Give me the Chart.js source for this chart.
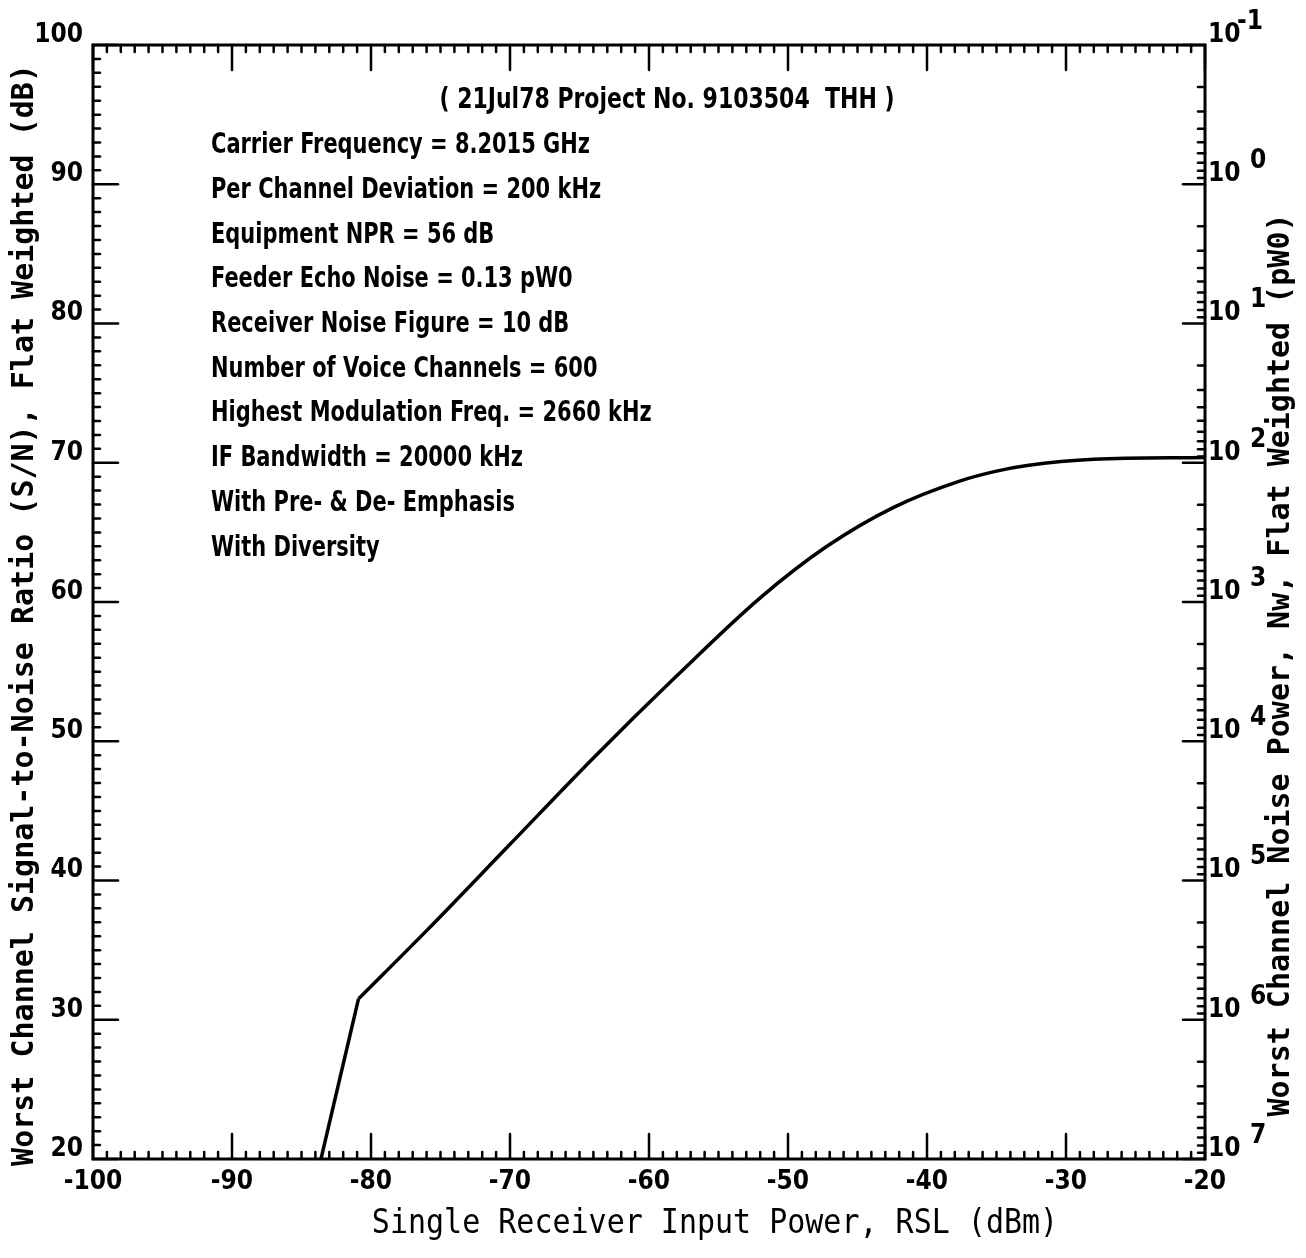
<!DOCTYPE html>
<html>
<head>
<meta charset="utf-8">
<script src="https://cdn.jsdelivr.net/npm/chart.js@4.4.1/dist/chart.umd.min.js"></script>
<style>
body { margin: 0; background: #fff; }
canvas { display: block; }
</style>
</head>
<body>
<canvas id="myChart" width="1306" height="1258"></canvas>
<script>
// Data

var RSL = [-83.6, -80.9, -76, -70, -64, -58, -52, -47.2, -42.4, -37.6, -35, -32.8, -28, -20];
var SN  = [20, 31.5, 36.4, 42.6, 48.8, 54.7, 60.3, 64.0, 66.8, 68.7, 69.4, 69.8, 70.25, 70.38];
var KNEE = 1; // index of the sharp corner, the curve is smooth after it

// right axis: noise power 10^n pW0 at these S/N values
var NW_SN  = [100, 90, 80, 70, 60, 50, 40, 30, 20];
var NW_EXP = ["-1", "0", "1", "2", "3", "4", "5", "6", "7"];

var HEADER = "( 21Jul78 Project No. 9103504  THH )";
var NOTES = [
	"Carrier Frequency = 8.2015 GHz",
	"Per Channel Deviation = 200 kHz",
	"Equipment NPR = 56 dB",
	"Feeder Echo Noise = 0.13 pW0",
	"Receiver Noise Figure = 10 dB",
	"Number of Voice Channels = 600",
	"Highest Modulation Freq. = 2660 kHz",
	"IF Bandwidth = 20000 kHz",
	"With Pre- & De- Emphasis",
	"With Diversity"
	];

var X_TITLE  = "Single Receiver Input Power, RSL (dBm)";
var Y_TITLE  = "Worst Channel Signal-to-Noise Ratio (S/N), Flat Weighted (dB)";
var Y2_TITLE = "Worst Channel Noise Power, Nw, Flat Weighted (pW0)";

var NARROW = "'Liberation Sans Narrow', 'DejaVu Sans Condensed', 'Liberation Sans', sans-serif";
var MONO = "'DejaVu Sans Mono', 'Liberation Mono', monospace";

var steep = [], smooth = [];
for (var i = 0; i < RSL.length; i++) {
	if (i <= KNEE) steep.push({x: RSL[i], y: SN[i]});
	if (i >= KNEE) smooth.push({x: RSL[i], y: SN[i]});
	}

function seg(ctx, x1, y1, x2, y2) {
	ctx.beginPath();
	ctx.moveTo(x1, y1);
	ctx.lineTo(x2, y2);
	ctx.stroke();
	}

// frame, inward ticks, exponents and all the free text
var plotter = {
	id: 'plotter',
	beforeDraw: function(chart) {
		var ctx = chart.ctx;
		ctx.save();
		ctx.fillStyle = '#fff';
		ctx.fillRect(0, 0, chart.width, chart.height);
		ctx.restore();
		},
	afterDraw: function(chart) {
		var ctx = chart.ctx;
		var a = chart.chartArea;
		var xs = chart.scales.x, ys = chart.scales.y, rs = chart.scales.nw;
		ctx.save();
		ctx.strokeStyle = '#000';
		ctx.fillStyle = '#000';
		ctx.lineCap = 'round';
		ctx.lineWidth = 3;
		ctx.strokeRect(a.left, a.top, a.right - a.left, a.bottom - a.top);

		ctx.lineWidth = 2.5;
		var v, p, len;
		for (v = -100; v <= -20; v++) {
			p = xs.getPixelForValue(v);
			len = (v % 10 == 0) ? 25 : 7;
			seg(ctx, p, a.bottom, p, a.bottom - len);
			seg(ctx, p, a.top, p, a.top + len);
			}
		for (v = 20; v <= 100; v++) {
			p = ys.getPixelForValue(v);
			len = (v % 10 == 0) ? 25 : 7;
			seg(ctx, a.left, p, a.left + len, p);
			}
		// log ticks on the right
		for (var k = 0; k < NW_SN.length; k++) {
			p = rs.getPixelForValue(NW_SN[k]);
			seg(ctx, a.right, p, a.right - 22, p);
			if (k == NW_SN.length - 1) break;
			for (var m = 2; m <= 9; m++) {
				p = rs.getPixelForValue(NW_SN[k] - 10 * Math.log10(m));
				seg(ctx, a.right, p, a.right - 7, p);
				}
			}

		// exponents
		ctx.font = "bold 26px " + NARROW;
		ctx.textAlign = 'left';
		ctx.textBaseline = 'middle';
		for (k = 0; k < NW_SN.length; k++) {
			p = rs.getPixelForValue(NW_SN[k]);
			ctx.fillText(NW_EXP[k], a.right + (k == 0 ? 32 : 45), p - 23);
			}

		// notes
		ctx.font = "bold 28px " + NARROW;
		var sx = 379 / ctx.measureText(NOTES[0]).width;
		var hx = 455 / ctx.measureText(HEADER).width;
		ctx.save();
		ctx.scale(hx, 1);
		ctx.textAlign = 'center';
		ctx.fillText(HEADER, 667 / hx, 101);
		ctx.restore();
		ctx.save();
		ctx.scale(sx, 1);
		ctx.textAlign = 'left';
		for (k = 0; k < NOTES.length; k++) {
			ctx.fillText(NOTES[k], 211 / sx, 146 + k * 44.7);
			}
		ctx.restore();

		// axis titles
		ctx.textAlign = 'center';
		ctx.font = "30px " + MONO;
		ctx.save();
		ctx.translate(715, 1224);
		ctx.scale(1, 1.15);
		ctx.fillText(X_TITLE, 0, 0);
		ctx.restore();
		ctx.font = "bold 30px " + MONO;
		ctx.save();
		ctx.translate(25, 615);
		ctx.rotate(-Math.PI / 2);
		ctx.fillText(Y_TITLE, 0, 0);
		ctx.restore();
		ctx.save();
		ctx.translate(1281, 665);
		ctx.rotate(-Math.PI / 2);
		ctx.fillText(Y2_TITLE, 0, 0);
		ctx.restore();
		ctx.restore();
		}
	};

var tickFont = {family: NARROW, size: 26, weight: 'bold'};

var ChartInst = new Chart(document.getElementById("myChart").getContext("2d"), {
	type: 'line',
	data: {
		datasets: [{
			data: steep,
			borderColor: '#000',
			borderWidth: 3.5,
			pointRadius: 0,
			tension: 0,
			fill: false
			},
			{
			data: smooth,
			borderColor: '#000',
			borderWidth: 3.5,
			pointRadius: 0,
			cubicInterpolationMode: 'monotone',
			fill: false
			}]
		},
	options: {
		responsive: false,
		animation: false,
		layout: { padding: { top: 45, left: 0, right: 0, bottom: 0 } },
		plugins: { legend: { display: false }, tooltip: { enabled: false } },
		scales: {
			x: {
				type: 'linear',
				min: -100,
				max: -20,
				grid: { display: false, drawTicks: false },
				border: { display: false },
				ticks: { stepSize: 10, color: '#000', font: tickFont, padding: 8, maxRotation: 0, autoSkip: false },
				afterFit: function(scale) { scale.height = 99; }
				},
			y: {
				type: 'linear',
				position: 'left',
				min: 20,
				max: 100,
				grid: { display: false, drawTicks: false },
				border: { display: false },
				ticks: { stepSize: 10, color: '#000', font: tickFont, padding: 10, labelOffset: -10 },
				afterFit: function(scale) { scale.width = 93; }
				},
			nw: {
				type: 'linear',
				position: 'right',
				min: 20,
				max: 100,
				grid: { display: false, drawTicks: false },
				border: { display: false },
				ticks: {
					stepSize: 10, color: '#000', font: tickFont, padding: 3, labelOffset: -10,
					callback: function() { return '10'; }
					},
				afterFit: function(scale) { scale.width = 101; }
				}
			}
		},
	plugins: [plotter]
	});
</script>
</body>
</html>
